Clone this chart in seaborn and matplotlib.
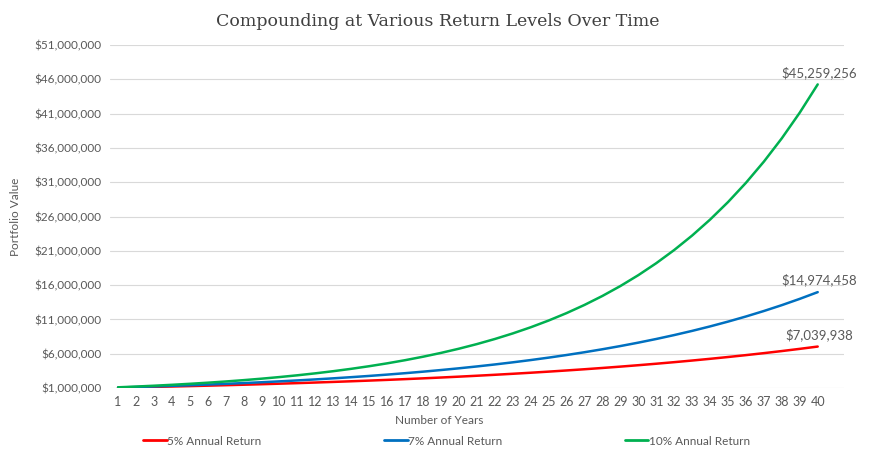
import matplotlib.pyplot as plt
import matplotlib.ticker as mticker
import pandas as pd
import seaborn as sns

years = list(range(1, 41))

ret_5 = [1.050, 1.103, 1.158, 1.216, 1.276, 1.340, 1.407, 1.477, 1.551, 1.629,
         1.710, 1.796, 1.886, 1.980, 2.079, 2.183, 2.292, 2.407, 2.527, 2.653,
         2.786, 2.925, 3.072, 3.225, 3.386, 3.556, 3.733, 3.920, 4.116, 4.322,
         4.538, 4.765, 5.003, 5.253, 5.516, 5.792, 6.081, 6.385, 6.705, 7.040]
ret_7 = [1.070, 1.145, 1.225, 1.311, 1.403, 1.501, 1.606, 1.718, 1.838, 1.967,
         2.105, 2.252, 2.410, 2.579, 2.759, 2.952, 3.159, 3.380, 3.617, 3.870,
         4.141, 4.430, 4.741, 5.072, 5.427, 5.807, 6.214, 6.649, 7.114, 7.612,
         8.145, 8.715, 9.325, 9.978, 10.677, 11.424, 12.224, 13.079, 13.995, 14.974]
ret_10 = [1.100, 1.210, 1.331, 1.464, 1.611, 1.772, 1.949, 2.144, 2.358, 2.594,
          2.853, 3.138, 3.452, 3.797, 4.177, 4.595, 5.054, 5.560, 6.116, 6.728,
          7.400, 8.140, 8.954, 9.850, 10.835, 11.918, 13.110, 14.421, 15.863, 17.449,
          19.194, 21.114, 23.225, 25.548, 28.102, 30.913, 34.004, 37.404, 41.145, 45.259]

series_names = ["5% Annual Return", "7% Annual Return", "10% Annual Return"]
end_labels = ["$7,039,938", "$14,974,458", "$45,259,256"]
colors = ["#FF0000", "#0070C0", "#00B050"]

df = pd.concat([
    pd.DataFrame({"year": years, "value": [v * 1e6 for v in vals], "series": name})
    for name, vals in zip(series_names, [ret_5, ret_7, ret_10])
])

sns.set_style("white")
plt.rcParams["font.family"] = ["Lato", "DejaVu Sans"]
text_color = "#595959"

fig = plt.figure(figsize=(8.9, 4.57), dpi=100)
ax = fig.add_axes([0.1236, 0.151, 0.8244, 0.7505])

sns.lineplot(data=df, x="year", y="value", hue="series", hue_order=series_names,
             palette=colors, linewidth=1.8, ax=ax, legend=False)

for name, lab, col in zip(series_names, end_labels, colors):
    last = df[df["series"] == name].iloc[-1]
    ax.annotate(lab, (last["year"], last["value"]), xytext=(1, 4),
                textcoords="offset points", ha="center", va="bottom",
                fontsize=9.5, color=text_color)

ax.set_xlim(0.55, 41.45)
ax.set_ylim(1e6, 51e6)
ax.set_xticks(years)
ax.set_yticks(range(1_000_000, 51_000_001, 5_000_000))
ax.yaxis.set_major_formatter(mticker.FuncFormatter(lambda v, _: f"${v:,.0f}"))
ax.tick_params(axis="both", length=0, labelsize=8.5, colors=text_color, pad=6)
ax.tick_params(axis="x", labelsize=9)
ax.grid(axis="y", color="#D9D9D9", linewidth=0.8)
for s in ax.spines.values():
    s.set_visible(False)

ax.set_xlabel("")
ax.set_ylabel("Portfolio Value", fontsize=8.5, color=text_color, labelpad=10)
fig.text(0.494, 0.08, "Number of Years", ha="center", va="center",
         fontsize=8.5, color=text_color)
fig.text(0.492, 0.952, "Compounding at Various Return Levels Over Time",
         ha="center", va="center", fontsize=12.5, color="#404040",
         family=["DejaVu Serif"])

handles = [plt.Line2D([], [], color=c, linewidth=2) for c in colors]
fig.legend(handles, series_names, loc="center left", bbox_to_anchor=(0.161, 0.035),
           ncol=3, frameon=False, fontsize=8.5, handlelength=2.0,
           handletextpad=0.05, columnspacing=10.35, labelcolor=text_color,
           borderaxespad=0, borderpad=0)

fig.savefig("out.png", dpi=100)
